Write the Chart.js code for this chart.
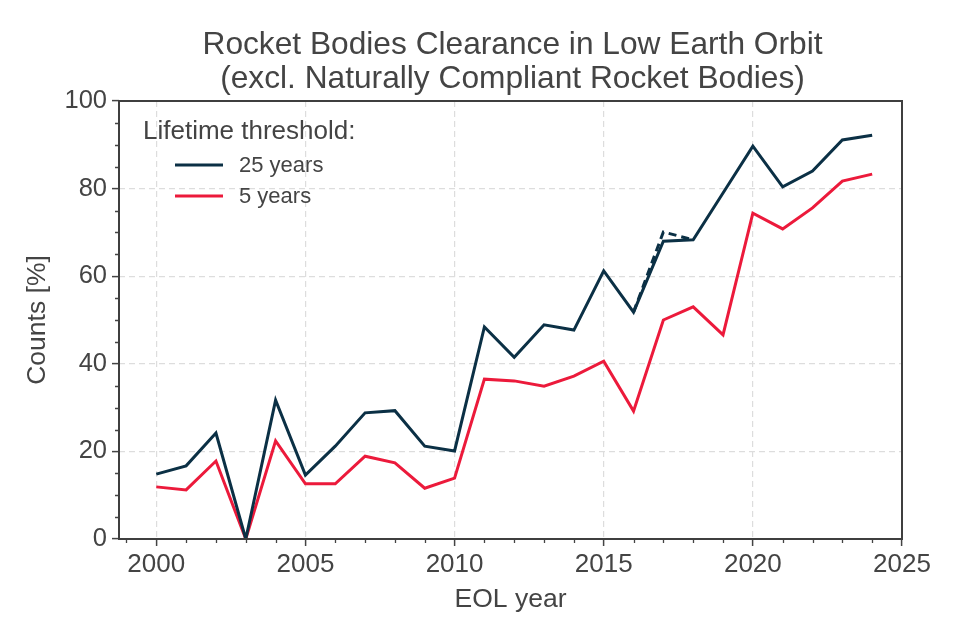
<!DOCTYPE html>
<html>
<head>
<meta charset="utf-8">
<script src="https://cdn.jsdelivr.net/npm/chart.js@4"></script>
<style>
html,body{margin:0;padding:0;background:#fff;}
#wrap{width:960px;height:640px;}
</style>
</head>
<body>
<div id="wrap"><canvas id="c" width="960" height="640"></canvas></div>
<script>
const years = [2000,2001,2002,2003,2004,2005,2006,2007,2008,2009,2010,2011,2012,2013,2014,2015,2016,2017,2018,2019,2020,2021,2022,2023,2024];
const years25 = [14.8,16.7,24.2,0,31.7,14.6,21.2,28.8,29.3,21.2,20.1,48.4,41.5,48.9,47.7,61.2,51.8,68.0,68.3,79.0,89.7,80.4,84.0,91.1,92.2];
const years5 = [11.9,11.2,17.8,0,22.4,12.6,12.6,18.9,17.4,11.6,13.9,36.5,36.1,34.9,37.2,40.6,29.2,50.0,53.0,46.6,74.4,70.8,75.6,81.7,83.3];
const altYears = [2016,2017,2018];
const alt25 = [51.8,70.1,68.3];
const xTicks = [2000,2005,2010,2015,2020,2025];
const yTicks = [0,20,40,60,80,100];
const titleLines = ['Rocket Bodies Clearance in Low Earth Orbit','(excl. Naturally Compliant Rocket Bodies)'];
const legendTitle = 'Lifetime threshold:';

const FONT = "'Liberation Sans', Arial, sans-serif";
const TXT = '#444444';
const NAVY = '#0b3045';
const RED = '#ec1a3b';

const toXY = (xs, ys) => xs.map((x,i)=>({x:x,y:ys[i]}));

const extras = {
  id:'extras',
  afterDraw(chart){
    const ctx = chart.ctx, a = chart.chartArea;
    const xs = chart.scales.x, ys = chart.scales.y;
    ctx.save();
    // minor ticks
    ctx.strokeStyle = TXT; ctx.lineWidth = 1.3;
    ctx.beginPath();
    for(let v=Math.ceil(xs.min); v<=xs.max; v++){
      if(v%5===0) continue;
      const px = Math.round(xs.getPixelForValue(v))+0.5;
      ctx.moveTo(px,a.bottom); ctx.lineTo(px,a.bottom+4);
    }
    for(let v=0; v<=ys.max; v+=5){
      if(v%20===0) continue;
      const py = Math.round(ys.getPixelForValue(v))+0.5;
      ctx.moveTo(a.left,py); ctx.lineTo(a.left-4,py);
    }
    ctx.stroke();
    // spines
    ctx.strokeStyle = '#3f3f3f'; ctx.lineWidth = 2;
    ctx.strokeRect(a.left, a.top, a.right-a.left, a.bottom-a.top);
    // title
    ctx.fillStyle = TXT;
    ctx.font = '31.7px ' + FONT;
    ctx.textAlign = 'center'; ctx.textBaseline = 'alphabetic';
    const cx = (a.left+a.right)/2 + 2;
    ctx.fillText(titleLines[0], cx, 54);
    ctx.fillText(titleLines[1], cx, 88);
    // legend
    ctx.textAlign = 'left'; ctx.textBaseline = 'middle';
    ctx.font = '26px ' + FONT;
    ctx.fillText(legendTitle, a.left+24, a.top+31);
    ctx.font = '22px ' + FONT;
    const items = chart.data.datasets.filter(d=>d.label);
    items.forEach((d,i)=>{
      const y = a.top + 64 + i*31;
      ctx.strokeStyle = d.borderColor; ctx.lineWidth = 3;
      ctx.beginPath(); ctx.moveTo(a.left+56,y); ctx.lineTo(a.left+104,y); ctx.stroke();
      ctx.fillText(d.label, a.left+120, y+1);
    });
    ctx.restore();
  }
};

new Chart(document.getElementById('c'), {
  type:'line',
  data:{
    datasets:[
      {label:'25 years', data:toXY(years,years25), borderColor:NAVY, backgroundColor:NAVY, borderWidth:3, pointRadius:0, tension:0, order:1},
      {label:'5 years', data:toXY(years,years5), borderColor:RED, backgroundColor:RED, borderWidth:3, pointRadius:0, tension:0, order:2},
      {label:'', data:toXY(altYears,alt25), borderColor:NAVY, borderWidth:3, borderDash:[8,5], pointRadius:0, tension:0, order:3}
    ]
  },
  options:{
    responsive:false,
    animation:false,
    devicePixelRatio:1,
    layout:{padding:{top:101,right:58,left:0,bottom:0}},
    plugins:{legend:{display:false}, title:{display:false}, tooltip:{enabled:false}},
    scales:{
      x:{
        type:'linear', min:1998.75, max:2025,
        afterBuildTicks(s){ s.ticks = xTicks.map(v=>({value:v})); },
        afterFit(s){ s.height = 101; },
        ticks:{color:TXT, font:{family:FONT,size:26}, padding:3, maxRotation:0, callback:v=>String(v)},
        grid:{color:'#dddddd', lineWidth:1.2, tickColor:TXT, tickLength:7, tickWidth:1.5},
        border:{display:false, dash:[6,4]},
        title:{display:true, text:'EOL year', color:TXT, font:{family:FONT,size:26.5}, padding:{top:0,bottom:24}}
      },
      y:{
        min:0, max:100,
        afterBuildTicks(s){ s.ticks = yTicks.map(v=>({value:v})); },
        afterFit(s){ s.width = 119; },
        ticks:{color:TXT, font:{family:FONT,size:25.5}, padding:5},
        grid:{color:'#dddddd', lineWidth:1.2, tickColor:TXT, tickLength:7, tickWidth:1.5},
        border:{display:false, dash:[6,4]},
        title:{display:true, text:'Counts [%]', color:TXT, font:{family:FONT,size:26.5}, padding:{top:22,bottom:0}}
      }
    }
  },
  plugins:[extras]
});
</script>
</body>
</html>
